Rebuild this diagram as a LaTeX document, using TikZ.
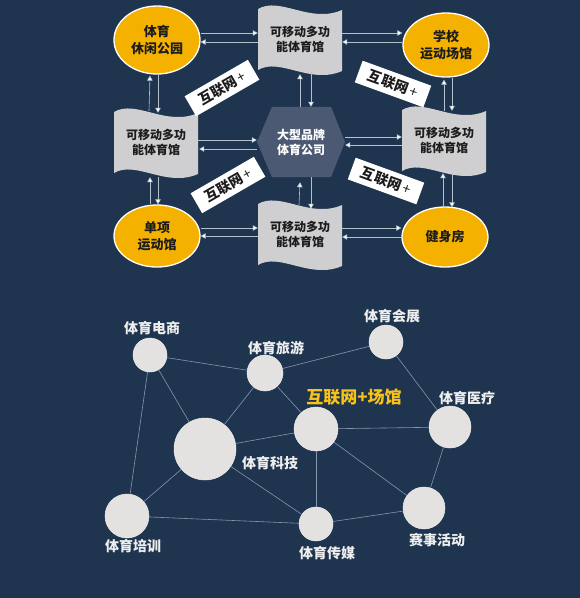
\documentclass[tikz,border=0pt]{standalone}
\usepackage{fontspec}
\setmainfont{Noto Sans CJK SC}
\usetikzlibrary{arrows.meta,shapes.geometric,calc}
\definecolor{bg}{HTML}{1F354F}
\definecolor{orng}{HTML}{F5B100}
\definecolor{tapegray}{HTML}{CFCFD1}
\definecolor{hexcol}{HTML}{4B5A72}
\definecolor{arrcol}{HTML}{B4C0CC}
\definecolor{netcol}{HTML}{8497AD}
\definecolor{circcol}{HTML}{E4E2E0}
\definecolor{labcol}{HTML}{EEEEEE}
\definecolor{ylw}{HTML}{F7C21A}
\definecolor{darktext}{HTML}{1C1C1C}
\tikzset{
  ell/.style={ellipse, fill=orng, draw=white, line width=1.3pt, minimum width=86pt, minimum height=68pt, align=center, text=darktext, font=\fontsize{13}{17}\selectfont\bfseries, inner sep=0pt},
  tapebox/.style={rectangle, minimum width=84pt, minimum height=62pt, align=center, text=darktext, font=\fontsize{12}{15}\selectfont\bfseries, inner sep=0pt},
  tapefill/.style={fill=tapegray},
  netlab/.style={align=center, text=darktext, fill=white, font=\fontsize{14}{16}\selectfont\bfseries, minimum width=73pt, minimum height=23pt, inner sep=0pt},
  arr/.style={draw=arrcol, line width=0.6pt, -{Triangle[width=5.5pt,length=5pt,fill=white]}},
  circ/.style={circle, fill=circcol, draw=white!85!gray, line width=0.5pt, inner sep=0pt},
  net/.style={draw=netcol, line width=0.6pt},
  clab/.style={text=labcol, font=\fontsize{14}{16}\selectfont\bfseries, inner sep=0pt},
}
\newcommand{\tapeshape}[1]{%
  \begin{scope}[shift={(#1.center)}]
    \fill[tapefill] (-42,-30) .. controls (-20,-43) and (10,-15) .. (42,-29)
      -- (42,32) .. controls (10,46) and (-20,18) .. (-42,31) -- cycle;
  \end{scope}}
\newcommand{\netplus}{互联网\hspace{2pt}{\mdseries +}}
\begin{document}
\begin{tikzpicture}[x=1pt,y=-1pt]
\fill[bg] (0,0) rectangle (580,598);
\useasboundingbox (0,0) rectangle (580,598);

% ---------- top diagram ----------
\node[tapebox] (t1) at (300,39) {};
\node[tapebox] (t2) at (156,142) {};
\node[tapebox] (t3) at (444,140) {};
\node[tapebox] (t4) at (300,234) {};
\tapeshape{t1}\tapeshape{t2}\tapeshape{t3}\tapeshape{t4}
\node[tapebox] at (t1) {可移动多功\\能体育馆};
\node[tapebox] at (t2) {可移动多功\\能体育馆};
\node[tapebox] at (t3) {可移动多功\\能体育馆};
\node[tapebox] at (t4) {可移动多功\\能体育馆};

% hexagon
\node[rectangle, minimum width=88pt, minimum height=70pt, inner sep=0pt] (hx) at (301,142) {};
\fill[hexcol] ([xshift=-44pt]hx.center) -- ([xshift=-29pt]hx.north) -- ([xshift=30pt]hx.north)
  -- ([xshift=44pt]hx.center) -- ([xshift=30pt]hx.south) -- ([xshift=-29pt]hx.south) -- cycle;
\node[text=white, align=center, font=\fontsize{12}{15}\selectfont\bfseries] at (hx) {大型品牌\\体育公司};

% ellipses
\node[ell] (pk) at (157,40) {体育\\休闲公园};
\node[ell, minimum height=64pt] (sc) at (446,45) {学校\\运动场馆};
\node[ell, minimum height=62pt] (su) at (157,236) {单项\\运动馆};
\node[ell, minimum height=60pt] (gy) at (445,237) {健身房};

% arrows
\draw[arr] ([yshift=7pt]pk.east) -- ([yshift=7pt]pk.east -| t1.west);
\draw[arr] ([yshift=-2pt]pk.east -| t1.west) -- ([yshift=-2pt]pk.east);
\draw[arr] ([yshift=6pt]t1.east) -- ([yshift=6pt]t1.east -| sc.west);
\draw[arr] ([yshift=-3pt]t1.east -| sc.west) -- ([yshift=-3pt]t1.east);

\draw[arr] ([xshift=-7pt]t2.north) -- ([xshift=-7pt,yshift=-1pt]pk.south);
\draw[arr] ([xshift=1pt]pk.south) -- ([xshift=2pt,yshift=-2pt]t2.north);
\draw[arr] ([xshift=0pt,yshift=-2pt]t3.north) -- ([xshift=-2pt,yshift=-2pt]sc.south);
\draw[arr] ([xshift=6pt]sc.south) -- ([xshift=8pt,yshift=-2pt]t3.north);

\draw[arr] ([xshift=-1pt]hx.north) -- ([xshift=-1pt,yshift=-4pt]hx.north |- t1.south);
\draw[arr] ([xshift=11pt,yshift=-2pt]t1.south) -- ([xshift=10pt]hx.north);
\draw[arr] ([xshift=-1pt,yshift=-2pt]t4.north) -- ([xshift=-1pt,yshift=-5pt]hx.south);
\draw[arr] ([xshift=10pt]hx.south) -- ([xshift=11pt,yshift=-6pt]t4.north);

\draw[arr] ([yshift=2pt]t2.east) -- ([yshift=2pt]t2.east -| hx.west);
\draw[arr] ([yshift=-7pt]t2.east -| hx.west) -- ([yshift=-7pt,xshift=1pt]t2.east);
\draw[arr] ([yshift=5pt]hx.east) -- ([yshift=5pt]hx.east -| t3.west);
\draw[arr] ([yshift=-3pt]hx.east -| t3.west) -- ([yshift=-3pt]hx.east);

\draw[arr] ([xshift=-7pt]su.north) -- ([xshift=-6pt,yshift=-4pt]t2.south);
\draw[arr] ([xshift=2pt,yshift=-4pt]t2.south) -- ([xshift=1pt]su.north);
\draw[arr] ([xshift=-2pt]gy.north) -- ([xshift=-1pt,yshift=-2pt]t3.south);
\draw[arr] ([xshift=8pt,yshift=-2pt]t3.south) -- ([xshift=7pt,yshift=-1pt]gy.north);

\draw[arr] ([yshift=8pt]su.east) -- ([yshift=8pt]su.east -| t4.west);
\draw[arr] ([yshift=0pt]su.east -| t4.west) -- ([yshift=0pt]su.east);
\draw[arr] ([yshift=6pt]t4.east) -- ([yshift=9pt]gy.west);
\draw[arr] ([yshift=0pt]gy.west) -- ([yshift=-3pt]t4.east);

% labels 互联网+
\node[netlab, rotate=30] (l1) at (222,88) {\netplus};
\node[netlab, rotate=-20] (l2) at (393,84) {\netplus};
\node[netlab, rotate=30] (l3) at (228,185) {\netplus};
\node[netlab, rotate=-20] (l4) at (386,181) {\netplus};

% ---------- bottom network ----------
\node[circ, minimum size=34pt] (ds) at (150,355) {};
\node[circ, minimum size=36pt] (ly) at (265,373) {};
\node[circ, minimum size=34pt] (hz) at (386,342) {};
\node[circ, minimum size=44pt] (cg) at (316,429) {};
\node[circ, minimum size=42pt] (yl) at (450,427) {};
\node[circ, minimum size=62pt] (kj) at (205,449) {};
\node[circ, minimum size=44pt] (px) at (127,516) {};
\node[circ, minimum size=34pt] (cm) at (316,524) {};
\node[circ, minimum size=42pt] (ss) at (424,508) {};

\draw[net] (ds) -- (ly);
\draw[net] (ds) -- (kj);
\draw[net] (ds) -- (px);
\draw[net] (ly) -- (hz);
\draw[net] (ly) -- (kj);
\draw[net] (ly) -- (cg);
\draw[net] (hz) -- (yl);
\draw[net] (cg) -- (kj);
\draw[net] (cg) -- (yl);
\draw[net] (cg) -- (cm);
\draw[net] (cg) -- (ss);
\draw[net] (yl) -- (ss);
\draw[net] (kj) -- (px);
\draw[net] (kj) -- (cm);
\draw[net] (px) -- (cm);
\draw[net] (cm) -- (ss);

\node[clab] (lds) at (152,328) {体育电商};
\node[clab] (lly) at (276,348) {体育旅游};
\node[clab] (lhz) at (392,316) {体育会展};
\node[clab, text=ylw, font=\fontsize{17}{19}\selectfont\bfseries] (lcg) at (354,397) {互联网+场馆};
\node[clab] (lyl) at (467,398) {体育医疗};
\node[clab] (lkj) at (270,463) {体育科技};
\node[clab] (lpx) at (133,546) {体育培训};
\node[clab] (lcm) at (327,553) {体育传媒};
\node[clab] (lss) at (437,540) {赛事活动};
\end{tikzpicture}
\end{document}
